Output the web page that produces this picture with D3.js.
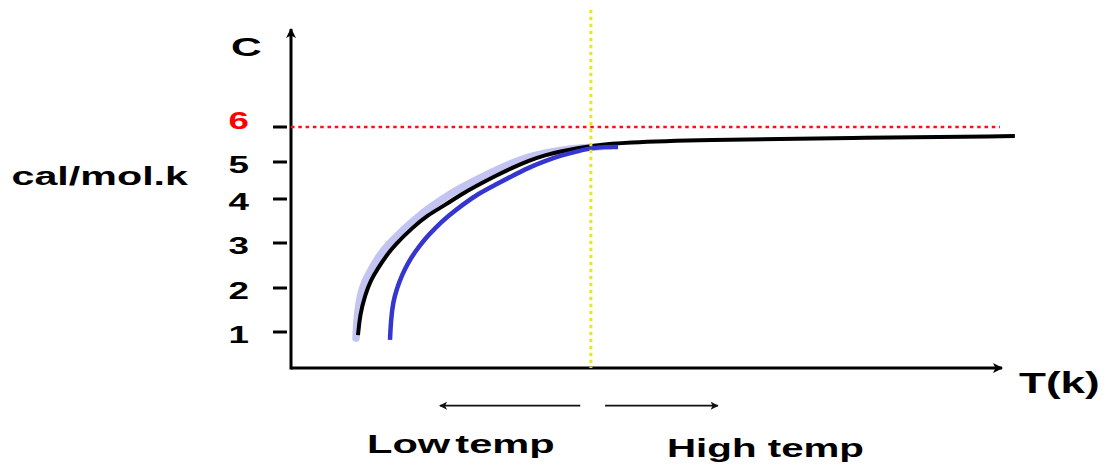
<!DOCTYPE html>
<html>
<head>
<meta charset="utf-8">
<script src="https://cdn.jsdelivr.net/npm/d3@7"></script>
<style>
  html, body { margin: 0; padding: 0; background: #fff; }
  svg { display: block; }
  text { font-family: "Liberation Sans", Arial, sans-serif; font-weight: bold; }
</style>
</head>
<body>
<svg id="chart" width="1107" height="465"></svg>
<script>
// ---------- data ----------
const yTickValues = [1, 2, 3, 4, 5, 6];
const yTickLabels = ["1", "2", "3", "4", "5", "6"];
const limitC = 6;            // red dotted reference (classical limit)
const boundaryT = 42.3;      // yellow dotted boundary between low and high temp

// black curve
const blackT = [9.45, 9.73, 10.44, 11.28, 12.27, 13.4, 14.67, 17.07, 19.32, 21.72, 24.12, 26.38, 28.77, 31.17, 33.43, 35.83, 38.22, 40.48, 42.31, 47.11, 57.69, 78.84, 102.1];
const blackC = [0.93, 1.39, 1.84, 2.18, 2.44, 2.71, 2.96, 3.34, 3.64, 3.86, 4.14, 4.38, 4.62, 4.84, 5.03, 5.20, 5.31, 5.40, 5.46, 5.56, 5.63, 5.69, 5.74];
// light (lavender) curve
const lightT = [9.17, 9.31, 9.73, 10.44, 11.42, 12.41, 13.68, 16.08, 18.34, 20.73, 23.13, 25.53, 28.35, 31.17, 33.43, 35.83, 38.22, 40.48, 43.3, 44.99];
const lightC = [0.86, 1.32, 1.84, 2.16, 2.44, 2.71, 2.96, 3.34, 3.66, 3.93, 4.22, 4.46, 4.73, 4.97, 5.14, 5.26, 5.34, 5.40, 5.43, 5.46];
// dark blue curve
const darkT = [13.96, 14.1, 14.39, 14.95, 15.66, 16.5, 17.49, 18.76, 20.31, 22.14, 24.12, 26.38, 28.77, 31.17, 33.43, 35.83, 38.22, 40.48, 42.31, 44.29, 46.12];
const darkC = [0.82, 1.27, 1.68, 2.00, 2.29, 2.56, 2.80, 3.07, 3.34, 3.61, 3.86, 4.14, 4.38, 4.62, 4.84, 5.03, 5.20, 5.31, 5.40, 5.43, 5.43];

// axis extents (in data units)
const xAxisDomain = [0, 100];
const yAxisLevel = 0.18;
const yAxisTop = 8.8;
const boundaryTop = 9.35;

// annotation arrows (in T units)
const lowArrow = [40.8, 21.0];
const highArrow = [44.3, 60.2];

// ---------- scales ----------
const x = d3.scaleLinear().domain(xAxisDomain).range([291, 1000]);
const y = d3.scaleLinear().domain(yTickValues).range([332, 288, 243, 199, 162, 127]);

const svg = d3.select("#chart");

// markers
const defs = svg.append("defs");
function marker(id, color, w, h) {
  defs.append("marker")
    .attr("id", id)
    .attr("viewBox", "0 0 10 10")
    .attr("refX", 9).attr("refY", 5)
    .attr("markerUnits", "userSpaceOnUse")
    .attr("markerWidth", w).attr("markerHeight", h)
    .attr("orient", "auto")
    .append("path").attr("d", "M0,0 L10,5 L0,10 L2.5,5 Z").attr("fill", color);
}
marker("axisArrow", "#000", 12, 10);
marker("smallArrow", "#111", 12, 8);

// ---------- axes ----------
svg.append("line")
  .attr("x1", x(xAxisDomain[0])).attr("x2", x(xAxisDomain[1]) + 2)
  .attr("y1", y(yAxisLevel)).attr("y2", y(yAxisLevel))
  .attr("stroke", "#000").attr("stroke-width", 3)
  .attr("marker-end", "url(#axisArrow)");
svg.append("line")
  .attr("x1", x(xAxisDomain[0])).attr("x2", x(xAxisDomain[0]))
  .attr("y1", y(yAxisLevel) + 1.5).attr("y2", y(yAxisTop))
  .attr("stroke", "#000").attr("stroke-width", 3)
  .attr("marker-end", "url(#axisArrow)");

// detached tick marks
svg.append("g").selectAll("line").data(yTickValues).join("line")
  .attr("x1", 273).attr("x2", 287)
  .attr("y1", d => y(d)).attr("y2", d => y(d))
  .attr("stroke", "#000").attr("stroke-width", 3);

function stretched(g, px, py, str, size, sx, anchor, color) {
  return g.append("text")
    .attr("transform", `translate(${px},${py}) scale(${sx},1)`)
    .attr("text-anchor", anchor)
    .attr("font-size", size)
    .attr("fill", color || "#000")
    .text(str);
}

yTickValues.forEach((v, i) => {
  const isLimit = v === limitC;
  stretched(svg, 249, y(v) + (isLimit ? 1.5 : 11), yTickLabels[i], 23, 1.6, "end", isLimit ? "#ff0000" : "#000");
});

// ---------- curves ----------
const line = d3.line().x(d => x(d[0])).y(d => y(d[1])).curve(d3.curveBasis);

svg.append("path")
  .attr("d", line(d3.zip(lightT, lightC)))
  .attr("fill", "none").attr("stroke", "#c4c4f2").attr("stroke-width", 7.5)
  .attr("stroke-linecap", "round");
svg.append("path")
  .attr("d", line(d3.zip(blackT, blackC)))
  .attr("fill", "none").attr("stroke", "#000").attr("stroke-width", 4);
svg.append("path")
  .attr("d", line(d3.zip(darkT, darkC)))
  .attr("fill", "none").attr("stroke", "#3535cf").attr("stroke-width", 4.5);

// ---------- reference lines ----------
svg.append("line")
  .attr("x1", x(xAxisDomain[0])).attr("x2", x(xAxisDomain[1]))
  .attr("y1", y(limitC)).attr("y2", y(limitC))
  .attr("stroke", "#ff1010").attr("stroke-width", 2.5)
  .attr("stroke-dasharray", "3.5,3.8");

svg.append("line")
  .attr("x1", x(boundaryT)).attr("x2", x(boundaryT))
  .attr("y1", y(boundaryTop)).attr("y2", y(yAxisLevel))
  .attr("stroke", "#e6e62a").attr("stroke-width", 3)
  .attr("stroke-dasharray", "3.5,3.5");

// ---------- labels ----------
stretched(svg, 231, 56, "C", 25, 1.7, "start");
stretched(svg, 11.5, 185, "cal/mol.k", 25, 1.65, "start");
stretched(svg, 1019, 393, "T(k)", 29, 1.52, "start");

const low = stretched(svg, 367, 453, "Low temp", 26, 1.6, "start");
low.attr("word-spacing", -4);
stretched(svg, 667, 457, "High temp", 26, 1.55, "start");

// annotation arrows
[lowArrow, highArrow].forEach(a => {
  svg.append("line")
    .attr("x1", x(a[0])).attr("x2", x(a[1]))
    .attr("y1", 405.7).attr("y2", 405.7)
    .attr("stroke", "#111").attr("stroke-width", 1.8)
    .attr("marker-end", "url(#smallArrow)");
});
</script>
</body>
</html>
